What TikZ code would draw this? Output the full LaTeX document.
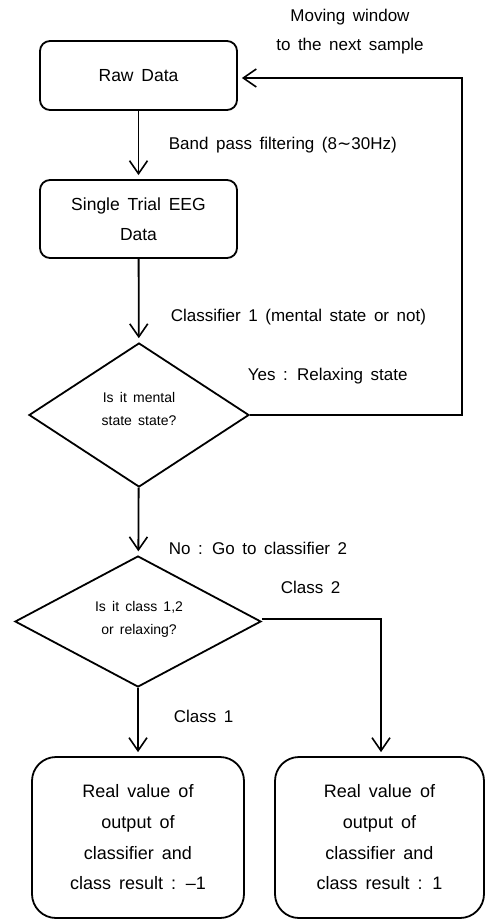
\documentclass[tikz,border=0pt]{standalone}
\usepackage{fontspec}
\setmainfont{Liberation Sans}[WordSpace=1.6]
\newfontfamily\symfont{DejaVu Sans}
\usetikzlibrary{arrows.meta,shapes.geometric}
\begin{document}
\begin{tikzpicture}[x=1pt,y=-1pt,line width=1.8pt,
  box/.style={draw,rounded corners=10pt,align=center,inner sep=0pt,
    font=\fontsize{17.5}{30}\selectfont},
  bigbox/.style={draw,rounded corners=24pt,align=center,inner sep=0pt,
    minimum height=161pt,font=\fontsize{18}{30.7}\selectfont},
  dec/.style={draw,diamond,inner sep=0pt,align=center,
    font=\fontsize{14}{23}\selectfont},
  lbl/.style={anchor=west,inner sep=0pt,font=\fontsize{17}{29}\selectfont},
  arr/.style={-{Straight Barb[length=13pt,width=18pt,line width=1.6pt]},shorten >=4pt}]
\useasboundingbox (0,0) rectangle (485,920);
% boxes
\node[box,minimum width=197pt,minimum height=69pt] (raw) at (138.5,75.5) {Raw Data};
\node[box,minimum width=197pt,minimum height=78pt] (single) at (138.5,219) {Single Trial EEG\\Data};
\node[dec,minimum width=220pt,minimum height=144pt] (d1) at (139,415) {};
\node[font=\fontsize{14}{23}\selectfont,align=center] (d1t) at (139,409) {Is it mental\\state state?};
\node[dec,minimum width=246pt,minimum height=131pt] (d2) at (138,621.5) {};
\node[font=\fontsize{14}{23}\selectfont,align=center] (d2t) at (139,619) {Is it class 1,2\\or relaxing?};
\node[bigbox,minimum width=212pt] (r1) at (138,837.5) {Real value of\\output of\\classifier and\\class result : –1};
\node[bigbox,minimum width=209pt] (r2) at (379.5,837.5) {Real value of\\output of\\classifier and\\class result : 1};
% labels
\node[font=\fontsize{17}{29}\selectfont,align=center] (mw) at (350,32) {Moving window\\to the next sample};
\node[lbl] (l1) at (168,145) {Band pass filtering (8{\symfont ∼}30Hz)};
\node[lbl] (l2) at (170,317) {Classifier 1 (mental state or not)};
\node[lbl] (l3) at (247,376) {Yes : Relaxing state};
\node[lbl] (l4) at (168,548) {No : Go to classifier 2};
\node[lbl] (l5) at (280,587) {Class 2};
\node[lbl] (l6) at (173,716) {Class 1};
% connectors
\coordinate (c1) at (462,78);
\coordinate (c2) at (381,619);
\draw[arr] (raw) -- (single);
\draw[arr] (single) -- (d1);
\draw[arr] (d1) -- (d2);
\draw[arr] (d2) -- (r1);
\draw[arr] (d1.east) -| (c1) -- (raw.east |- c1);
\draw[arr] (d2.east |- c2) -- (c2) -- (c2 |- r2.north);
\end{tikzpicture}
\end{document}
